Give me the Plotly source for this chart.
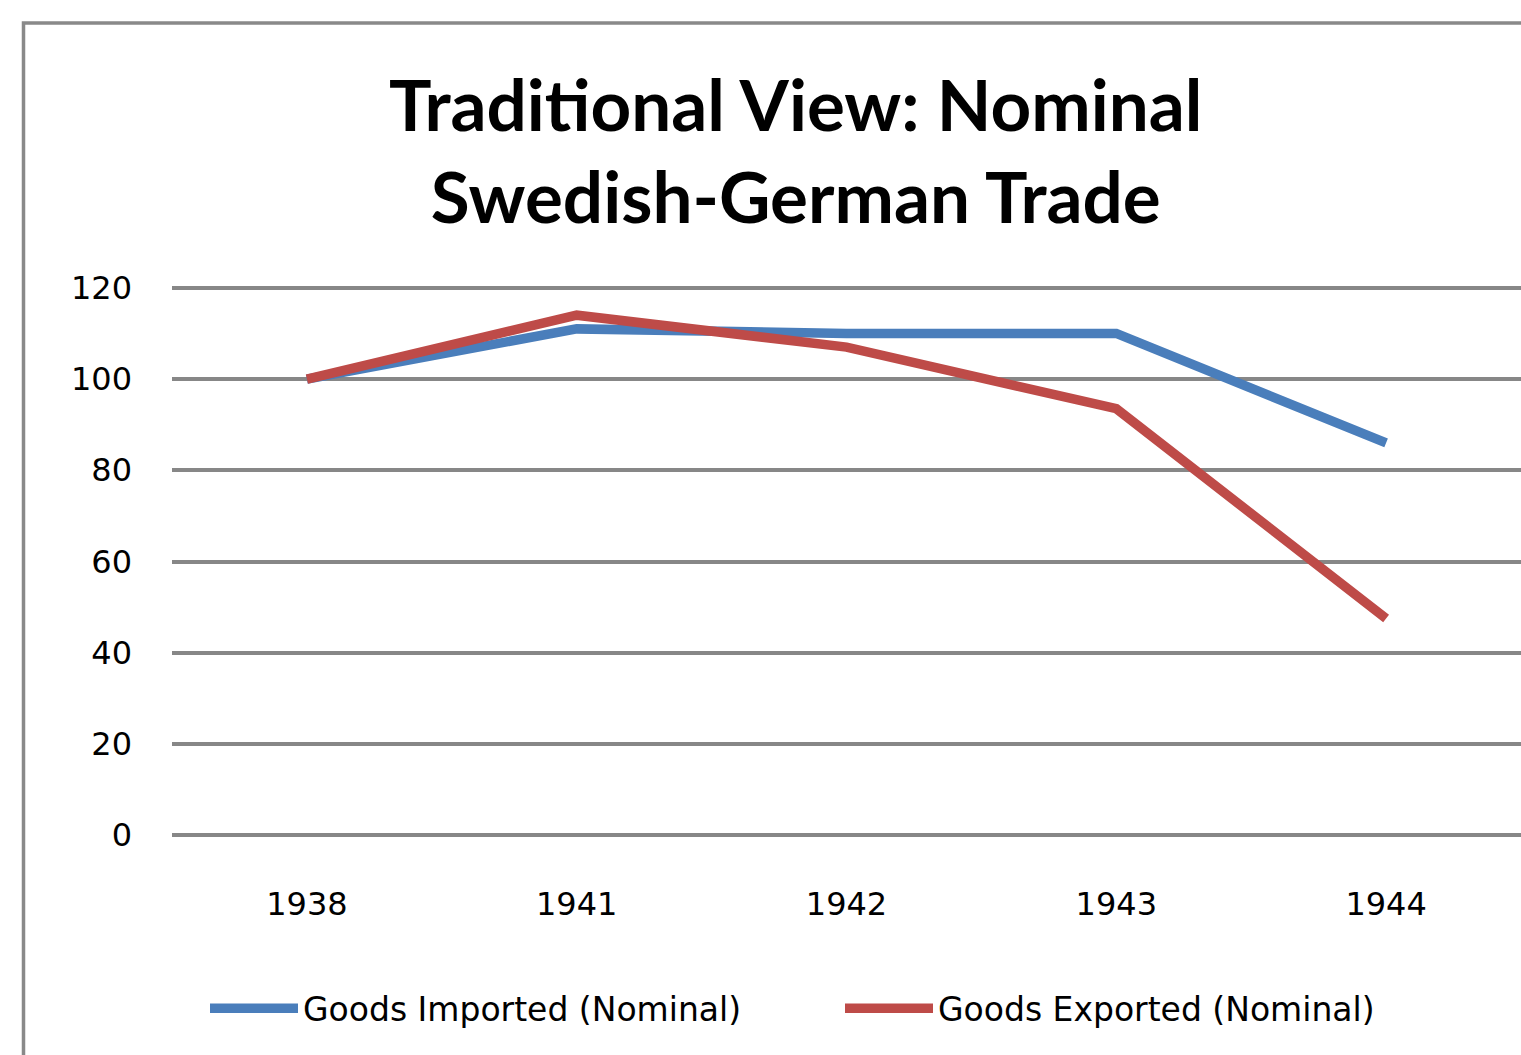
import plotly.graph_objects as go

years = ["1938", "1941", "1942", "1943", "1944"]
imported = [100, 111, 110, 110, 86]
exported = [100, 114, 107, 93.5, 47.5]
y_ticks = [0, 20, 40, 60, 80, 100, 120]

FONT = "DejaVu Sans"
W, H = 1521, 1055
PL, PR = 172, 1521          # plot left/right in pixels
PT, PB = 286.2, 836.8       # plot top/bottom in pixels
PW, PH = PR - PL, PB - PT

def px(x):
    return (x - PL) / PW

def py(y):
    return (PB - y) / PH

fig = go.Figure()
fig.add_trace(go.Scatter(x=years, y=imported, mode="lines", name="Goods Imported (Nominal)",
                         line=dict(color="#4A7EBB", width=9.5)))
fig.add_trace(go.Scatter(x=years, y=exported, mode="lines", name="Goods Exported (Nominal)",
                         line=dict(color="#BE4B48", width=9.5)))

fig.update_layout(
    width=W, height=H,
    margin=dict(l=PL, r=W - PR, t=PT, b=H - PB),
    paper_bgcolor="white", plot_bgcolor="white",
    font=dict(family=FONT, color="black", size=32),
    xaxis=dict(type="category", range=[-0.5, 4.5], showgrid=False, zeroline=False,
               showline=False, ticks="", ticklabelstandoff=45,
               tickfont=dict(size=32)),
    yaxis=dict(range=[-0.4, 120.4], tickvals=y_ticks, showgrid=True, gridcolor="#878787",
               gridwidth=3.5, zeroline=False, showline=False, ticks="",
               ticklabelstandoff=39, tickfont=dict(size=32)),
    legend=dict(orientation="h", x=px(205), xanchor="left", y=py(1008), yanchor="middle",
                itemwidth=88, font=dict(size=33), traceorder="normal",
                entrywidth=532),
    showlegend=True,
)

fig.add_annotation(text="<b>Traditional View: Nominal<br>Swedish-German Trade</b>",
                   xref="paper", yref="paper", x=px(795), y=py(150),
                   xanchor="center", yanchor="middle", showarrow=False,
                   font=dict(family="Lato", size=71, color="black"))

fig.add_shape(type="rect", xref="paper", yref="paper",
              x0=px(23.5), x1=1.2, y0=-0.6, y1=py(23.5),
              line=dict(color="#898989", width=3.5), fillcolor="rgba(0,0,0,0)", layer="below")

fig.write_html("out.html", config={"displayModeBar": False},
               post_script="document.body.style.margin='0px';document.body.style.overflow='hidden';")
